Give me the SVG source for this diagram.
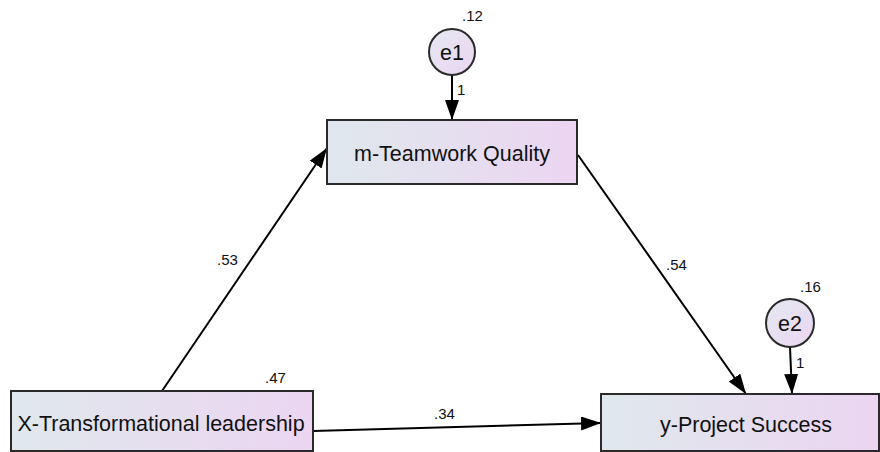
<svg xmlns="http://www.w3.org/2000/svg" width="880" height="452" viewBox="0 0 880 452">
  <defs>
    <linearGradient id="boxFill" x1="0" y1="0" x2="1" y2="0">
      <stop offset="0" stop-color="#dfe8ec"/>
      <stop offset="1" stop-color="#ecd5f2"/>
    </linearGradient>
    <linearGradient id="errFill" x1="0" y1="0" x2="1" y2="1">
      <stop offset="0" stop-color="#e4e8f0"/>
      <stop offset="1" stop-color="#ecd6f2"/>
    </linearGradient>
    <marker id="arrow" viewBox="0 0 20 14" refX="20" refY="7" markerWidth="20" markerHeight="14" markerUnits="userSpaceOnUse" orient="auto">
      <path d="M0,0 L20,7 L0,14 z" fill="#000"/>
    </marker>
    <style>
      .box { fill: url(#boxFill); stroke: #2a2a2a; stroke-width: 2; }
      .err { fill: url(#errFill); stroke: #2a2a2a; stroke-width: 2; }
      .name { font-family: "Liberation Sans", Arial, sans-serif; font-size: 21.5px; fill: #111; text-anchor: middle; }
      .coef { font-family: "Liberation Sans", Arial, sans-serif; font-size: 15px; fill: #111; }
      .path { stroke: #000; stroke-width: 2; fill: none; marker-end: url(#arrow); }
    </style>
  </defs>

  <!-- structural paths -->
  <g id="connectors">
    <line class="path" x1="162" y1="391" x2="327" y2="148"/>
    <line class="path" x1="578" y1="155" x2="746" y2="394"/>
    <line class="path" x1="313" y1="431" x2="601" y2="423"/>
    <line class="path" x1="452" y1="75" x2="452" y2="120"/>
    <line class="path" x1="790" y1="347" x2="792" y2="394"/>
    <text class="coef" x="217" y="265">.53</text>
    <text class="coef" x="666" y="270">.54</text>
    <text class="coef" x="434" y="419">.34</text>
    <text class="coef" x="457" y="95">1</text>
    <text class="coef" x="796" y="368">1</text>
  </g>

  <g id="e1">
    <circle class="err" cx="452" cy="52" r="23"/>
    <text class="name" x="452" y="60">e1</text>
    <text class="coef" x="462" y="21">.12</text>
  </g>

  <g id="e2">
    <circle class="err" cx="790" cy="323" r="24"/>
    <text class="name" x="790" y="331">e2</text>
    <text class="coef" x="800" y="292">.16</text>
  </g>

  <g id="teamwork">
    <rect class="box" x="327" y="120" width="250" height="64"/>
    <text class="name" x="452" y="161">m-Teamwork Quality</text>
  </g>

  <g id="leadership">
    <rect class="box" x="11" y="391" width="302" height="60"/>
    <text class="name" x="161" y="431">X-Transformational leadership</text>
    <text class="coef" x="265" y="383">.47</text>
  </g>

  <g id="success">
    <rect class="box" x="601" y="394" width="278" height="57"/>
    <text class="name" x="746" y="432">y-Project Success</text>
  </g>
</svg>
